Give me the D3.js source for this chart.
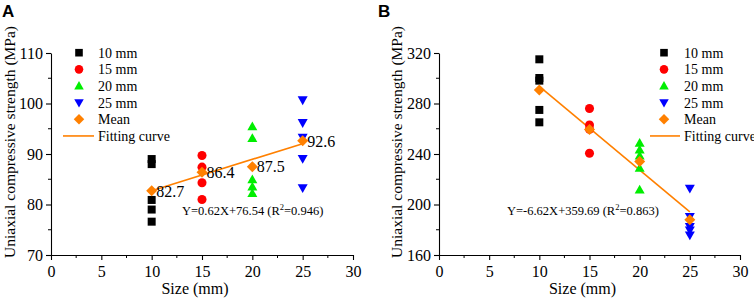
<!DOCTYPE html>
<html><head><meta charset="utf-8">
<script src="https://cdn.jsdelivr.net/npm/d3@7"></script>
<style>
body{margin:0;background:#fff;}
svg{display:block;}
</style></head>
<body>
<svg id="c" width="754" height="302"></svg>
<script>
// ---- Data ----
const sizes = [10, 15, 20, 25];
const seriesNames = ["10 mm", "15 mm", "20 mm", "25 mm"];
const xTicks = [0, 5, 10, 15, 20, 25, 30];

// Panel A
const aVals10 = [89.0, 88.0, 80.9, 79.0, 76.6];
const aVals15 = [89.7, 87.4, 84.3, 81.0];
const aVals20 = [95.4, 93.1, 84.9, 83.5, 82.2];
const aVals25 = [100.7, 96.2, 93.3, 89.1, 83.3];
const aMeans = [82.7, 86.4, 87.5, 92.6];
const aMeanLabels = ["82.7", "86.4", "87.5", "92.6"];
const aFit = {slope: 0.62, intercept: 76.54};
const aEquation = ["Y=0.62X+76.54 (R", "2", "=0.946)"];
const aYTicks = [70, 80, 90, 100, 110];

// Panel B
const bVals10 = [315.0, 300.2, 298.1, 274.9, 265.1];
const bVals15 = [276.0, 263.0, 259.6, 240.6];
const bVals20 = [248.5, 243.2, 238.4, 228.7, 211.5];
const bVals25 = [212.8, 190.4, 182.4, 179.8, 175.8];
const bMeans = [290.7, 259.5, 234.0, 188.0];
const bFit = {slope: -6.62, intercept: 359.69};
const bEquation = ["Y=-6.62X+359.69 (R", "2", "=0.863)"];
const bYTicks = [160, 200, 240, 280, 320];

const colors = ["#000000", "#ff0000", "#00ee00", "#0000ff"];
const meanColor = "#ff8000";
const yTitle = "Uniaxial compressive strength (MPa)";
const xTitle = "Size (mm)";
const SERIF = "Liberation Serif";

const svg = d3.select("#c");

function marker(kind){
  if (kind === 0) return "M-4,-4H4V4H-4Z";
  if (kind === 1) return d3.symbol(d3.symbolCircle, 64)();
  if (kind === 2) return "M0,-5.2L5,3.6H-5Z";
  if (kind === 3) return "M0,5.2L5,-3.6H-5Z";
  return "M0,-5.5L5.5,0L0,5.5L-5.5,0Z";
}

function txt(sel, size){
  return sel.attr("font-family", SERIF).style("font-family", SERIF)
    .attr("font-size", size).style("font-size", size + "px").attr("fill", "#000");
}

function panel(o){
  const g = svg.append("g");
  const x = d3.scaleLinear().domain([0, 30]).range(o.xr);
  const y = d3.scaleLinear().domain(o.yd).range([255, 53]);

  const xa = g.append("g").attr("transform", "translate(0,255)")
    .call(d3.axisBottom(x).tickValues(xTicks).tickSize(5).tickSizeOuter(0).tickPadding(6));
  const ya = g.append("g").attr("transform", `translate(${o.xr[0]},0)`)
    .call(d3.axisLeft(y).tickValues(o.yTicks).tickSize(5).tickSizeOuter(0).tickPadding(3));
  const xMinor = xTicks.slice(0, -1).map(v => v + 2.5);
  const yStep = o.yTicks[1] - o.yTicks[0];
  const yMinor = o.yTicks.slice(0, -1).map(v => v + yStep / 2);
  g.append("g").selectAll("line").data(xMinor).join("line")
    .attr("x1", d => x(d)).attr("x2", d => x(d)).attr("y1", 255).attr("y2", 258)
    .attr("stroke", "#000");
  g.append("g").selectAll("line").data(yMinor).join("line")
    .attr("y1", d => y(d)).attr("y2", d => y(d)).attr("x1", o.xr[0]).attr("x2", o.xr[0] - 3)
    .attr("stroke", "#000");
  [xa, ya].forEach(a => {
    a.attr("font-family", SERIF);
    a.selectAll("path,line").attr("stroke", "#000").attr("stroke-width", 1.1);
    txt(a.selectAll("text"), 16);
  });

  txt(g.append("text").attr("transform", `translate(${o.ytx},142) rotate(-90)`)
    .attr("text-anchor", "middle").attr("dy", "0.35em"), 15.5).text(yTitle);
  txt(g.append("text").attr("x", (o.xr[0] + o.xr[1]) / 2 - 7).attr("y", 294)
    .attr("text-anchor", "middle"), 16).text(xTitle);

  g.append("text").attr("x", o.lx).attr("y", 17)
    .style("font-family", '"Liberation Sans",Arial,sans-serif').style("font-weight", "bold")
    .style("font-size", "17px").text(o.letter);

  const line = d3.line().x(d => x(d)).y(d => y(o.fit.slope * d + o.fit.intercept));
  g.append("path").attr("d", line([sizes[0], sizes[sizes.length - 1]]))
    .attr("fill", "none").attr("stroke", meanColor).attr("stroke-width", 1.6);

  o.vals.forEach((arr, i) => {
    g.append("g").selectAll("path").data(arr).join("path")
      .attr("d", marker(i)).attr("fill", colors[i])
      .attr("transform", d => `translate(${x(sizes[i])},${y(d)})`);
  });
  g.append("g").selectAll("path").data(o.means).join("path")
    .attr("d", marker(4)).attr("fill", meanColor)
    .attr("transform", (d, i) => `translate(${x(sizes[i])},${y(d)})`);

  if (o.meanLabels) {
    txt(g.append("g").selectAll("text").data(o.meanLabels).join("text")
      .attr("x", (d, i) => x(sizes[i]) + 4.5).attr("y", (d, i) => y(o.means[i]))
      .attr("dy", "0.36em"), 16).text(d => d);
  }

  const eq = txt(g.append("text").attr("x", o.eqx).attr("y", o.eqy), 12.5);
  eq.append("tspan").text(o.eq[0]);
  eq.append("tspan").attr("dy", -5).style("font-size", "8.5px").text(o.eq[1]);
  eq.append("tspan").attr("dy", 5).text(o.eq[2]);

  const lg = g.append("g");
  [0, 1, 2, 3, 4].forEach(r => {
    const yy = 52.7 + r * 16.65;
    lg.append("path").attr("d", marker(r)).attr("fill", r < 4 ? colors[r] : meanColor)
      .attr("transform", `translate(${o.legX},${yy}) scale(0.95)`);
    txt(lg.append("text").attr("x", o.legT).attr("y", yy).attr("dy", "0.36em"), 14)
      .text(r < 4 ? seriesNames[r] : "Mean");
  });
  const yy = 52.7 + 5 * 16.65;
  lg.append("line").attr("x1", o.legL[0]).attr("x2", o.legL[1]).attr("y1", yy).attr("y2", yy)
    .attr("stroke", meanColor).attr("stroke-width", 1.6);
  txt(lg.append("text").attr("x", o.legT).attr("y", yy).attr("dy", "0.36em"), 14)
    .text("Fitting curve");
}

panel({xr: [51, 353], yd: [70, 110], yTicks: aYTicks,
  vals: [aVals10, aVals15, aVals20, aVals25], means: aMeans, meanLabels: aMeanLabels,
  fit: aFit, eq: aEquation, eqx: 182, eqy: 215, ytx: 10, lx: 2, letter: "A",
  legX: 79, legT: 98, legL: [63, 94]});

panel({xr: [439, 740], yd: [160, 320], yTicks: bYTicks,
  vals: [bVals10, bVals15, bVals20, bVals25], means: bMeans, meanLabels: null,
  fit: bFit, eq: bEquation, eqx: 507, eqy: 215, ytx: 397, lx: 378, letter: "B",
  legX: 664, legT: 684, legL: [650, 680]});
</script>
</body></html>
